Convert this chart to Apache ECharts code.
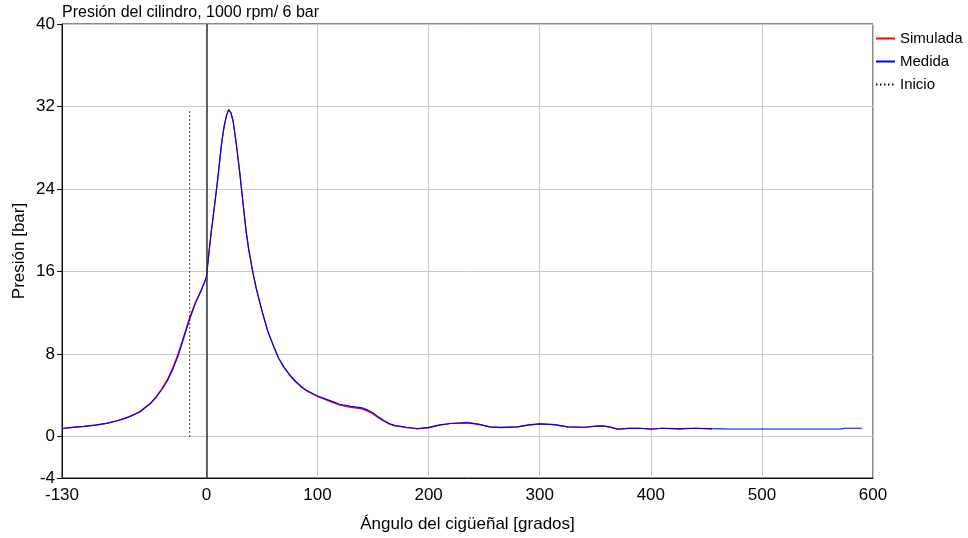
<!DOCTYPE html>
<html>
<head>
<meta charset="utf-8">
<script src="https://cdn.jsdelivr.net/npm/echarts@6/dist/echarts.min.js"></script>
<style>
html,body{margin:0;padding:0;background:#fff;}
#chart{width:968px;height:538px;}
</style>
</head>
<body>
<div id="chart"></div>
<script>
// ---- data ----
const titleText = 'Presión del cilindro, 1000 rpm/ 6 bar';
const xAxisName = 'Ángulo del cigüeñal [grados]';
const yAxisName = 'Presión [bar]';
const xTicks = [-130, 0, 100, 200, 300, 400, 500, 600];
const yTicks = [-4, 0, 8, 16, 24, 32, 40];
const seriesNames = ['Simulada', 'Medida', 'Inicio'];

const angulo = [-130,-120,-110,-100,-90,-80,-70,-60,-50,-45,-40,-35,-30,-25,-20,-15,-10,-5,-2,0,
  2,4,6,8,10,12,14,16,18,20,22,24,26,28,30,32,34,36,38,40,42,45,50,55,60,65,70,75,80,85,90,
  100,110,120,130,140,145,150,155,160,165,170,175,180,190,200,210,220,235,245,255,265,280,290,
  300,313,325,340,350,357,363,370,380,390,400,410,425,440,455,470,500,540,572,574,590];

const medida = [0.80,0.90,1.00,1.12,1.30,1.55,1.90,2.40,3.25,3.85,4.60,5.45,6.60,8.00,9.70,11.40,12.90,14.10,14.90,15.50,
  17.60,19.60,21.30,23.00,24.80,26.80,28.70,30.10,31.10,31.70,31.40,30.60,29.10,27.40,25.60,23.60,21.60,19.70,18.20,17.00,15.80,14.30,12.20,10.30,8.90,7.60,6.70,6.00,5.40,4.90,4.50,
  3.95,3.55,3.15,2.95,2.80,2.60,2.30,1.90,1.55,1.25,1.08,1.00,0.92,0.80,0.90,1.15,1.28,1.35,1.20,0.95,0.90,0.95,1.15,
  1.25,1.18,0.95,0.92,1.02,1.05,0.95,0.75,0.80,0.82,0.75,0.82,0.78,0.82,0.78,0.75,0.75,0.75,0.75,0.82,0.82];

// Simulada stops at 455 deg
const simulada = [0.80,0.90,1.00,1.12,1.30,1.56,1.92,2.45,3.30,3.92,4.70,5.58,6.75,8.20,9.90,11.60,13.00,14.15,14.90,15.45,
  17.50,19.50,21.20,23.00,24.80,26.80,28.70,30.10,31.10,31.70,31.40,30.60,29.10,27.40,25.60,23.60,21.60,19.70,18.20,17.00,15.80,14.30,12.20,10.30,8.90,7.60,6.70,5.95,5.35,4.85,4.45,
  3.90,3.48,3.05,2.85,2.70,2.48,2.20,1.82,1.50,1.22,1.05,0.97,0.88,0.75,0.85,1.12,1.28,1.40,1.22,0.95,0.88,0.95,1.13,
  1.25,1.18,0.95,0.92,1.00,1.04,0.92,0.72,0.80,0.82,0.72,0.82,0.74,0.82,0.74];

const inicioX = [-15, -15];
const inicioY = [0, 31.8];
const verticalRef = 0;

// ---- build ----
const FONT = '"Liberation Sans", Arial, sans-serif';
const zip = (xs, ys) => ys.map((y, i) => [xs[i], y]);

const chart = echarts.init(document.getElementById('chart'), null, {renderer: 'canvas'});
chart.setOption({
  animation: false,
  backgroundColor: '#ffffff',
  textStyle: {fontFamily: FONT, color: '#000'},
  title: {
    text: titleText, left: 62, top: 5, padding: 0,
    textStyle: {fontFamily: FONT, fontSize: 16, fontWeight: 'normal', color: '#000'}
  },
  legend: {
    orient: 'vertical', left: 875, top: 31, padding: 0,
    itemWidth: 19, itemHeight: 14, itemGap: 8,
    data: seriesNames,
    itemStyle: {opacity: 0},
    textStyle: {fontFamily: FONT, fontSize: 15, color: '#000', lineHeight: 14}
  },
  grid: {
    left: 62, right: 95, top: 24, bottom: 60, containLabel: false,
    show: true, borderColor: '#111', borderWidth: 1, backgroundColor: '#fff'
  },
  xAxis: {
    type: 'value', min: -130, max: 600,
    name: xAxisName, nameLocation: 'middle', nameGap: 38,
    nameTextStyle: {fontFamily: FONT, fontSize: 17, color: '#000'},
    axisLine: {show: true, onZero: false, lineStyle: {color: '#111', width: 1}},
    axisTick: {show: false, customValues: xTicks},
    axisLabel: {customValues: xTicks, fontFamily: FONT, fontSize: 17, color: '#000', margin: 9, hideOverlap: false, showMinLabel: true, showMaxLabel: true},
    splitLine: {show: true, lineStyle: {color: '#c8c8c8', width: 1}}
  },
  yAxis: {
    type: 'value', min: -4, max: 40,
    name: yAxisName, nameLocation: 'middle', nameGap: 34, nameMoveOverlap: false,
    nameTextStyle: {fontFamily: FONT, fontSize: 17, color: '#000'},
    axisLine: {show: true, onZero: false, lineStyle: {color: '#111', width: 1}},
    axisTick: {show: true, inside: false, length: 5, customValues: yTicks, lineStyle: {color: '#111'}},
    axisLabel: {customValues: yTicks, fontFamily: FONT, fontSize: 17, color: '#000', margin: 7, showMinLabel: true, showMaxLabel: true},
    splitLine: {show: true, lineStyle: {color: '#c8c8c8', width: 1}}
  },
  series: [
    {
      name: seriesNames[0], type: 'line', symbol: 'none', smooth: false,
      data: zip(angulo, simulada),
      lineStyle: {color: '#ff0000', width: 1.2}, itemStyle: {color: '#ff0000'}
    },
    {
      name: seriesNames[1], type: 'line', symbol: 'none', smooth: false,
      data: zip(angulo, medida),
      lineStyle: {color: '#0000ff', width: 1.2}, itemStyle: {color: '#0000ff'}
    },
    {
      name: seriesNames[2], type: 'line', symbol: 'none',
      data: zip(inicioX, inicioY),
      lineStyle: {color: '#000', width: 1, type: [1.5, 2.5]}, itemStyle: {color: '#000'},
      markLine: {
        silent: true, symbol: 'none', label: {show: false},
        lineStyle: {color: '#333', width: 1.5, type: 'solid'},
        data: [{xAxis: verticalRef}]
      }
    }
  ]
});
</script>
</body>
</html>
